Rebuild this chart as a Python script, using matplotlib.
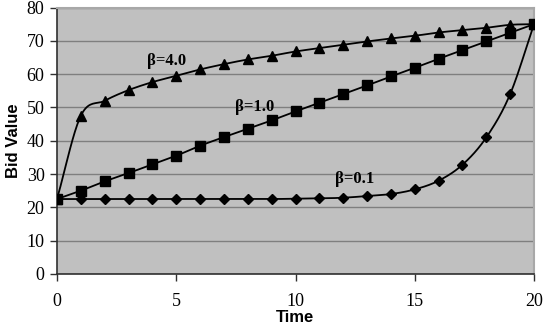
import matplotlib
matplotlib.use('Agg')
import matplotlib.pyplot as plt
import numpy as np

# values (time 0..20)
time = list(range(21))
beta_40 = [22.5, 47.5, 52.0, 55.2, 57.6, 59.5, 61.4, 63.0, 64.4, 65.5, 66.8,
           67.8, 68.8, 69.8, 70.7, 71.5, 72.5, 73.2, 73.9, 74.8, 75.0]
beta_10 = [22.5, 25.0, 27.8, 30.3, 32.9, 35.5, 38.5, 41.1, 43.6, 46.1, 48.8,
           51.4, 54.0, 56.6, 59.3, 61.9, 64.6, 67.2, 69.8, 72.4, 75.0]
beta_01 = [22.5, 22.5, 22.5, 22.5, 22.5, 22.5, 22.5, 22.5, 22.5, 22.5, 22.6,
           22.7, 22.9, 23.4, 24.0, 25.4, 28.0, 32.8, 41.0, 54.0, 75.0]
series_labels = ['\u03b2=4.0', '\u03b2=1.0', '\u03b2=0.1']
label_pos = [(4.6, 63.8), (8.3, 50.2), (12.5, 28.6)]


def smooth(x, y, n=20):
    """Catmull-Rom curve through the points, like Excel's smoothed line."""
    x = np.asarray(x, float)
    y = np.asarray(y, float)
    px = np.concatenate([[2 * x[0] - x[1]], x, [2 * x[-1] - x[-2]]])
    py = np.concatenate([[2 * y[0] - y[1]], y, [2 * y[-1] - y[-2]]])
    xs, ys = [], []
    t = np.linspace(0, 1, n, endpoint=False)
    for i in range(1, len(px) - 2):
        for p, out in ((px, xs), (py, ys)):
            p0, p1, p2, p3 = p[i - 1], p[i], p[i + 1], p[i + 2]
            out.extend(0.5 * ((2 * p1) + (-p0 + p2) * t
                              + (2 * p0 - 5 * p1 + 4 * p2 - p3) * t ** 2
                              + (-p0 + 3 * p1 - 3 * p2 + p3) * t ** 3))
    xs.append(x[-1])
    ys.append(y[-1])
    return np.array(xs), np.array(ys)


fig = plt.figure(figsize=(5.46, 3.28), dpi=100)
ax = fig.add_axes([57 / 546, 1 - 274 / 328, 477 / 546, 266.5 / 328])
ax.set_facecolor('#c0c0c0')

for vals, marker, ms in ((beta_40, '^', 7), (beta_10, 's', 6.5), (beta_01, 'D', 4.8)):
    sx, sy = smooth(time, vals)
    ax.plot(sx, sy, color='black', linewidth=1.3, zorder=3)
    ax.plot(time, vals, linestyle='none', marker=marker, markersize=ms,
            color='black', zorder=4)

for text, (tx, ty) in zip(series_labels, label_pos):
    ax.text(tx, ty, text, ha='center', va='center', fontsize=12,
            family='Liberation Serif', fontweight='bold', zorder=5)

ax.set_xlim(0, 20)
ax.set_ylim(0, 80)
ax.set_xticks([0, 5, 10, 15, 20])
ax.set_yticks(range(0, 81, 10))
ax.yaxis.grid(True, color='#7f7f7f', linewidth=1)
ax.set_axisbelow(True)

for side in ('top', 'right'):
    ax.spines[side].set_color('#a8a8a8')
    ax.spines[side].set_linewidth(1.5)
for side in ('left', 'bottom'):
    ax.spines[side].set_color('#303030')
    ax.spines[side].set_linewidth(1.2)

ax.tick_params(axis='both', direction='out', length=5, width=1, color='#303030',
               labelsize=13)
ax.tick_params(axis='x', pad=9)
ax.tick_params(axis='y', pad=4)
for lab in ax.get_xticklabels() + ax.get_yticklabels():
    lab.set_family('Liberation Serif')

ax.set_xlabel('Time', fontsize=12, fontweight='bold', family='Liberation Sans',
              labelpad=0)
ax.set_ylabel('Bid Value', fontsize=12, fontweight='bold', family='Liberation Sans',
              labelpad=4)

fig.savefig('out.png', dpi=100)
